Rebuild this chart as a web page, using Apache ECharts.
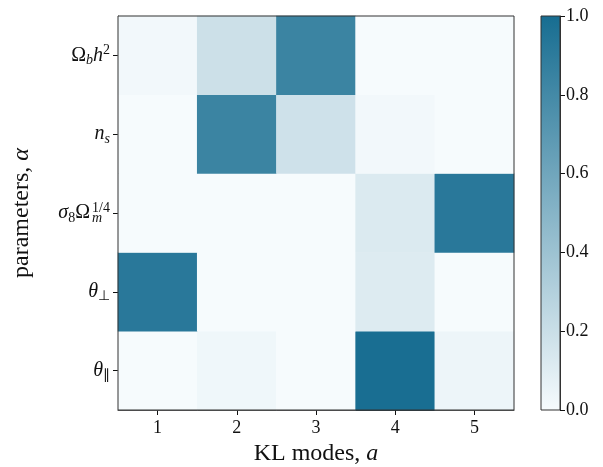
<!DOCTYPE html>
<html>
<head>
<meta charset="utf-8">
<script src="https://cdn.jsdelivr.net/npm/echarts@6/dist/echarts.min.js"></script>
<style>html,body{margin:0;padding:0;background:#fff}#c{width:603px;height:467px}</style>
</head>
<body>
<div id="c"></div>
<script>
// KL modes (x) and parameters (y, bottom to top)
var modes = ['1', '2', '3', '4', '5'];
var params = ['theta_par', 'theta_perp', 'sigma8', 'ns', 'obh2'];
// values per parameter row, across modes 1..5
var row_obh2      = [0.02, 0.19, 0.84, 0.00, 0.00];
var row_ns        = [0.00, 0.84, 0.18, 0.02, 0.00];
var row_sigma8    = [0.00, 0.00, 0.00, 0.12, 0.92];
var row_theta_perp= [0.92, 0.00, 0.00, 0.11, 0.00];
var row_theta_par = [0.00, 0.03, 0.00, 0.99, 0.04];
var colorTicks = [0.0, 0.2, 0.4, 0.6, 0.8, 1.0];

var rows = {obh2: row_obh2, ns: row_ns, sigma8: row_sigma8, theta_perp: row_theta_perp, theta_par: row_theta_par};
var data = [];
params.forEach(function (p, yi) {
  rows[p].forEach(function (v, xi) { data.push([xi, yi, v]); });
});

var LIGHT = '#f6fbfd', DARK = '#176d91';
var FONT = 'Liberation Serif';
var LH = 24;
var labelRich = {
  r: {fontFamily: FONT, fontSize: 20, lineHeight: LH, verticalAlign: 'middle', color: '#111', align: 'left'},
  i: {fontFamily: FONT, fontSize: 20, fontStyle: 'italic', lineHeight: LH, verticalAlign: 'middle', color: '#111', align: 'left'},
  sub: {fontFamily: FONT, fontSize: 14, lineHeight: LH, verticalAlign: 'bottom', color: '#111', align: 'left'},
  subi: {fontFamily: FONT, fontSize: 14, fontStyle: 'italic', lineHeight: LH, verticalAlign: 'bottom', color: '#111', align: 'left'},
  subm: {fontFamily: FONT, fontSize: 14, fontStyle: 'italic', lineHeight: LH, verticalAlign: 'bottom', color: '#111', width: 0.01, align: 'left', padding: [0, 0, 0, 2]},
  sup: {fontFamily: FONT, fontSize: 14, lineHeight: LH, verticalAlign: 'top', color: '#111', align: 'left'}
};
var labelMap = {
  obh2: '{r|Ω}{subi|b}{i|h}{sup|2}',
  ns: '{i|n}{subi|s}',
  sigma8: '{i|σ}{sub|8}{r|Ω}{subm|m}{sup|1/4}',
  theta_perp: '{i|θ}{sub|⊥}',
  theta_par: '{i|θ}{sub|∥}'
};

var chart = echarts.init(document.getElementById('c'));
chart.setOption({
  animation: false,
  backgroundColor: '#fff',
  grid: [
    {left: 118, top: 16, width: 396, height: 394, show: true, borderColor: '#333', borderWidth: 1, backgroundColor: 'transparent', z: 5, containLabel: false, outerBoundsMode: 'none'},
    {left: 541, top: 16, width: 19, height: 394, show: true, borderColor: '#333', borderWidth: 1, backgroundColor: 'transparent', z: 5, containLabel: false, outerBoundsMode: 'none'}
  ],
  xAxis: [
    {type: 'category', data: modes, gridIndex: 0,
     axisLine: {show: true, lineStyle: {color: '#333'}},
     axisTick: {show: true, alignWithLabel: true, length: 5, lineStyle: {color: '#111'}},
     axisLabel: {fontFamily: FONT, fontSize: 18, color: '#111', margin: 9},
     splitLine: {show: false},
     name: '{n|KL modes, }{i|a}', nameLocation: 'middle', nameGap: 31,
     nameTextStyle: {rich: {
       n: {fontFamily: FONT, fontSize: 24, color: '#111'},
       i: {fontFamily: FONT, fontSize: 24, fontStyle: 'italic', color: '#111'}}}},
    {type: 'category', data: ['c'], gridIndex: 1, show: false}
  ],
  yAxis: [
    {type: 'category', data: params, gridIndex: 0,
     axisLine: {show: true, lineStyle: {color: '#333'}},
     axisTick: {show: true, alignWithLabel: true, length: 5, lineStyle: {color: '#111'}},
     axisLabel: {formatter: function (v) { return labelMap[v]; }, rich: labelRich, margin: 8},
     splitLine: {show: false},
     name: '{n|parameters, }{i|α}', nameLocation: 'middle', nameGap: 84, nameRotate: 90,
     nameTextStyle: {rich: {
       n: {fontFamily: FONT, fontSize: 24, color: '#111'},
       i: {fontFamily: FONT, fontSize: 24, fontStyle: 'italic', color: '#111'}}}},
    {type: 'value', gridIndex: 1, min: 0, max: 1, interval: 0.2, position: 'right',
     axisLine: {show: true, lineStyle: {color: '#333'}},
     axisTick: {show: true, length: 5, lineStyle: {color: '#111'}},
     axisLabel: {fontFamily: FONT, fontSize: 18, color: '#111', margin: 6,
                 formatter: function (v) { return v.toFixed(1); }},
     splitLine: {show: false}}
  ],
  visualMap: {show: false, min: 0, max: 1, seriesIndex: 0, dimension: 2,
              inRange: {color: [LIGHT, DARK]}},
  series: [
    {type: 'heatmap', xAxisIndex: 0, yAxisIndex: 0, data: data,
     itemStyle: {borderWidth: 0}, emphasis: {disabled: true}},
    {type: 'bar', xAxisIndex: 1, yAxisIndex: 1, data: [colorTicks[colorTicks.length - 1]],
     barWidth: '100%', silent: true,
     itemStyle: {color: new echarts.graphic.LinearGradient(0, 0, 0, 1,
       [{offset: 0, color: DARK}, {offset: 1, color: LIGHT}])}}
  ]
});
</script>
</body>
</html>
